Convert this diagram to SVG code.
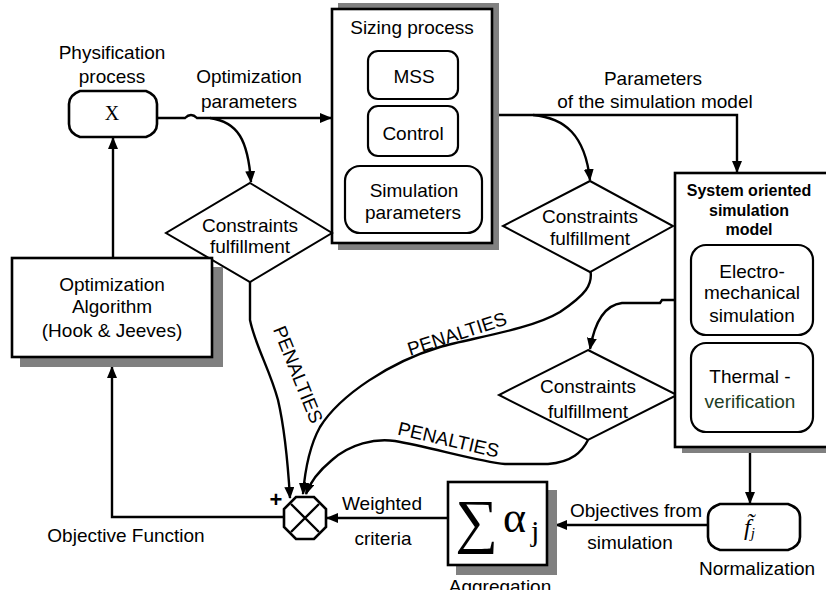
<svg xmlns="http://www.w3.org/2000/svg" width="826" height="590" viewBox="0 0 826 590">
<defs>
<marker id="ah" markerUnits="userSpaceOnUse" markerWidth="12" markerHeight="10" refX="11" refY="5" orient="auto">
<path d="M0,0 L12,5 L0,10 Z" fill="#000"/>
</marker>
<style>
.t{font-family:"Liberation Sans",Arial,sans-serif;font-size:19px;fill:#000;text-anchor:middle}
.b{font-family:"Liberation Sans",Arial,sans-serif;font-size:16px;font-weight:bold;fill:#000;text-anchor:middle}
.s{font-family:"Liberation Serif","Times New Roman","DejaVu Serif",serif;fill:#000}
.box{fill:#fff;stroke:#000;stroke-width:2.6}
.in{fill:#fff;stroke:#000;stroke-width:2.2}
.dia{fill:#fff;stroke:#000;stroke-width:2}
.sh{fill:#808080}
.c{fill:none;stroke:#000;stroke-width:2.4}
.ca{fill:none;stroke:#000;stroke-width:2.4;marker-end:url(#ah)}
</style>
</defs>
<rect width="826" height="590" fill="#fff"/>

<g id="connectors">
<path class="ca" d="M157 118 L185 118 Q191 112 197 118 L331 118"/>
<path class="ca" d="M492 115 L737 115 L737 172"/>
<path class="ca" d="M210 118 C238 122 248 140 251 182"/>
<path class="ca" d="M533 115 C565 118 585 135 590 180"/>
<path class="ca" d="M113 258 L113 138"/>
<path class="ca" d="M284 517 L112 517 L112 367"/>
<path class="ca" d="M250 282 L250 320 C255 345 270 370 278 400 C285 430 288 465 290 498"/>
<path class="ca" d="M590 268 C594 285 585 295 560 312 C530 330 470 338 440 347 C390 362 340 395 320 427 C310 445 305 470 303 494"/>
<path class="ca" d="M675 300 L662 300 L660 303 L622 303 C605 305 595 320 590 349"/>
<path class="ca" d="M588 440 C582 452 572 462 548 464 L505 464 C480 462 430 447 395 441 C375 438 350 444 332 460 C320 470 310 482 306 494"/>
<path class="ca" d="M750 453 L750 503"/>
<path class="ca" d="M708 525 L556 525"/>
<path class="ca" d="M448 518 L327 518"/>
</g>

<g id="label-optimization-parameters">
<text class="t" x="249" y="83">Optimization</text>
<text class="t" x="249" y="108">parameters</text>
</g>
<g id="label-parameters-sim">
<text class="t" x="653" y="85">Parameters</text>
<text class="t" x="655" y="108">of the simulation model</text>
</g>
<g id="label-penalties">
<text class="t" transform="translate(292 377) rotate(68)">PENALTIES</text>
<text class="t" transform="translate(459 340) rotate(-18)">PENALTIES</text>
<text class="t" transform="translate(447 446) rotate(13)">PENALTIES</text>
</g>
<g id="label-objective-function">
<text class="t" x="126" y="542">Objective Function</text>
</g>
<g id="label-weighted">
<text class="t" x="382" y="510">Weighted</text>
<text class="t" x="383" y="545">criteria</text>
</g>
<g id="label-objectives">
<text class="t" x="636" y="517">Objectives from</text>
<text class="t" x="630" y="549">simulation</text>
</g>

<g id="physification">
<text class="t" x="112" y="59">Physification</text>
<text class="t" x="112" y="83">process</text>
<path class="box" d="M80 91 H146 Q157 95 157 104 V124 Q157 133 146 137 H80 Q69 133 69 124 V104 Q69 95 80 91 Z"/>
<text class="s" x="112" y="120" font-size="20" text-anchor="middle">X</text>
</g>

<g id="sizing">
<rect class="sh" x="338" y="3" width="161" height="247"/>
<rect class="box" x="332" y="9" width="160" height="234"/>
<text class="t" x="412" y="34">Sizing process</text>
<rect class="in" x="368" y="51" width="90" height="48" rx="10"/>
<text class="t" x="414" y="83">MSS</text>
<rect class="in" x="368" y="106" width="90" height="50" rx="10"/>
<text class="t" x="413" y="140">Control</text>
<rect class="in" x="345" y="166" width="137" height="67" rx="15"/>
<text class="t" x="414" y="197">Simulation</text>
<text class="t" x="413" y="219">parameters</text>
</g>

<g id="constraints1">
<path class="dia" d="M250 183 L332 233 L250 282 L166 233 Z"/>
<text class="t" x="250" y="232">Constraints</text>
<text class="t" x="250" y="253">fulfillment</text>
</g>
<g id="constraints2">
<path class="dia" d="M590 181 L673 226 L590 272 L503 226 Z"/>
<text class="t" x="590" y="223">Constraints</text>
<text class="t" x="590" y="245">fulfillment</text>
</g>
<g id="constraints3">
<path class="dia" d="M588 350 L677 395 L588 440 L499 395 Z"/>
<text class="t" x="588" y="393">Constraints</text>
<text class="t" x="588" y="418">fulfillment</text>
</g>

<g id="algorithm">
<rect class="sh" x="20" y="267" width="203" height="100"/>
<rect class="box" x="12" y="258" width="200" height="99"/>
<text class="t" x="112" y="291">Optimization</text>
<text class="t" x="112" y="313">Algorithm</text>
<text class="t" x="112" y="337">(Hook &amp; Jeeves)</text>
</g>

<g id="system">
<rect class="sh" x="682" y="180" width="160" height="273"/>
<rect class="box" x="675" y="173" width="160" height="274"/>
<text class="b" x="749" y="196">System oriented</text>
<text class="b" x="749" y="216">simulation</text>
<text class="b" x="749" y="235">model</text>
<rect class="in" x="691" y="245" width="122" height="90" rx="15"/>
<text class="t" x="752" y="278">Electro-</text>
<text class="t" x="752" y="299">mechanical</text>
<text class="t" x="752" y="322">simulation</text>
<rect class="in" x="691" y="343" width="122" height="89" rx="15"/>
<text class="t" x="750" y="383">Thermal -</text>
<text class="t" x="750" y="408" style="fill:#1e3d23">verification</text>
</g>

<g id="sum">
<path class="box" d="M296 497 L314 497 L326 509 L326 527 L314 539 L296 539 L284 527 L284 509 Z"/>
<path class="c" d="M291 504 L319 532 M319 504 L291 532"/>
<text x="276" y="507" font-family="Liberation Sans,Arial,sans-serif" font-size="22" font-weight="bold" text-anchor="middle">+</text>
</g>

<g id="aggregation">
<rect class="sh" x="456" y="490" width="101" height="85"/>
<rect class="box" x="448" y="482" width="99" height="83"/>
<text class="s" x="455" y="541" font-size="60">∑</text>
<text class="s" x="503" y="532" font-size="44">α</text>
<text class="s" x="531" y="541" font-size="30">j</text>
<text class="t" x="500" y="593">Aggregation</text>
</g>

<g id="normalization">
<path class="box" d="M720 504 H788 Q800 508 800 517 V537 Q800 546 788 550 H720 Q708 546 708 537 V517 Q708 508 720 504 Z"/>
<text class="s" x="744" y="535" font-size="24" font-style="italic" fill="#333">f̃<tspan font-size="15" dy="3">j</tspan></text>
<text class="t" x="757" y="575">Normalization</text>
</g>
</svg>
